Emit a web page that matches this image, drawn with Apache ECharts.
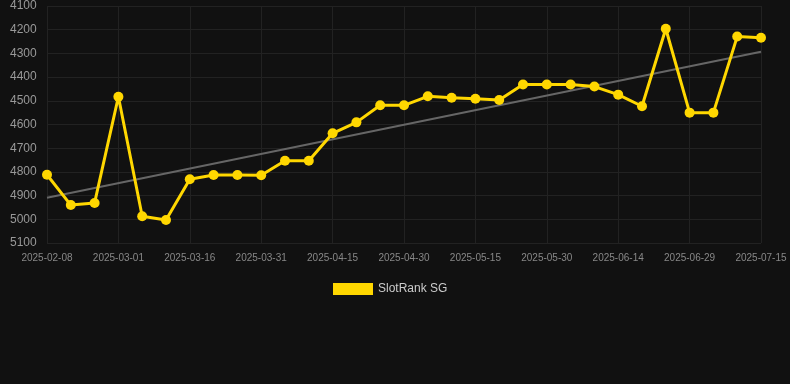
<!DOCTYPE html>
<html>
<head>
<meta charset="utf-8">
<script src="https://cdn.jsdelivr.net/npm/echarts@6/dist/echarts.min.js"></script>
<style>
html,body{margin:0;padding:0;background:#111111;}
#c{width:790px;height:384px;}
</style>
</head>
<body>
<div id="c"></div>
<script>
const categories = [
  '2025-02-08','2025-02-15','2025-02-22','2025-03-01','2025-03-06','2025-03-11',
  '2025-03-16','2025-03-21','2025-03-26','2025-03-31','2025-04-05','2025-04-10',
  '2025-04-15','2025-04-20','2025-04-25','2025-04-30','2025-05-05','2025-05-10',
  '2025-05-15','2025-05-20','2025-05-25','2025-05-30','2025-06-04','2025-06-09',
  '2025-06-14','2025-06-19','2025-06-24','2025-06-29','2025-07-04','2025-07-09',
  '2025-07-15'
];
const rankValues = [
  4812, 4940, 4931, 4483, 4987, 5003, 4831, 4813, 4813, 4814, 4753, 4753,
  4637, 4591, 4519, 4519, 4481, 4487, 4491, 4497, 4431, 4431, 4431, 4440,
  4474, 4523, 4196, 4550, 4550, 4229, 4234
];
const trendStart = 4909;
const trendEnd = 4293;
const yMin = 4100, yMax = 5100, yStep = 100;

const chart = echarts.init(document.getElementById('c'), null, {renderer:'canvas'});
chart.setOption({
  backgroundColor: '#111111',
  animation: false,
  grid: {left: 47, right: 29, top: 6, bottom: 141},
  legend: {
    show: true,
    top: 278,
    left: 328,
    itemWidth: 40,
    itemHeight: 12,
    itemGap: 10,
    data: [{name: 'SlotRank SG', icon: 'rect'}],
    textStyle: {color: '#cccccc', fontSize: 12, fontFamily: 'Liberation Sans, Arial, sans-serif'}
  },
  xAxis: {
    type: 'category',
    data: categories,
    boundaryGap: false,
    axisLine: {show: false},
    axisTick: {show: false},
    axisLabel: {
      interval: 2, color: '#888888', fontSize: 10, margin: 10,
      fontFamily: 'Liberation Sans, Arial, sans-serif'
    },
    splitLine: {show: true, interval: 2, lineStyle: {color: '#222222', width: 1}}
  },
  yAxis: {
    type: 'value',
    inverse: true,
    min: yMin,
    max: yMax,
    interval: yStep,
    axisLine: {show: false},
    axisTick: {show: false},
    axisLabel: {
      color: '#999999', fontSize: 12, margin: 37, align: 'left',
      formatter: function (v) { return String(v); },
      fontFamily: 'Liberation Sans, Arial, sans-serif'
    },
    splitLine: {show: true, lineStyle: {color: '#222222', width: 1}}
  },
  series: [
    {
      name: 'Trend',
      type: 'line',
      data: [[categories[0], trendStart], [categories[categories.length - 1], trendEnd]],
      symbol: 'none',
      silent: true,
      lineStyle: {color: '#666666', width: 2},
      z: 2
    },
    {
      name: 'SlotRank SG',
      type: 'line',
      data: rankValues,
      symbol: 'circle',
      symbolSize: 10,
      itemStyle: {color: '#FFD700'},
      lineStyle: {color: '#FFD700', width: 3},
      z: 3
    }
  ]
});
</script>
</body>
</html>
